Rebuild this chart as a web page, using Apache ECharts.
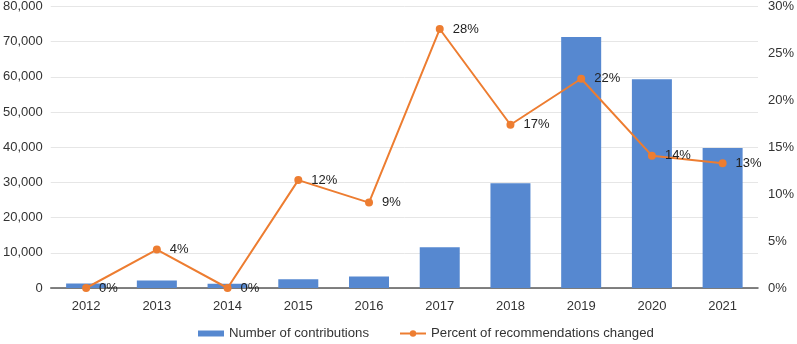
<!DOCTYPE html>
<html>
<head>
<meta charset="utf-8">
<script src="https://cdn.jsdelivr.net/npm/echarts@6/dist/echarts.min.js"></script>
<style>
    html, body { margin: 0; padding: 0; background: #fff; }
    #chart { width: 797px; height: 344px; }
</style>
</head>
<body>
<div id="chart"></div>
<script>
// 年份
var years = ['2012', '2013', '2014', '2015', '2016', '2017', '2018', '2019', '2020', '2021'];
// 贡献数量
var contributions = [1300, 2100, 1200, 2500, 3300, 11600, 29800, 71300, 59300, 39800];
// 推荐变化比例 (%)
var percentChanged = [0, 4.1, 0, 11.5, 9.1, 27.6, 17.4, 22.3, 14.1, 13.3];

var textColor = '#333';
var fontFamily = 'Liberation Sans, Arial, sans-serif';

var option = {
    textStyle: { fontFamily: fontFamily, color: textColor },
    animation: false,
    grid: { left: 48, right: 35, top: 6, bottom: 56 },
    legend: {
        top: 322,
        left: 193,
        itemGap: 30,
        itemWidth: 26,
        itemHeight: 8,
        textStyle: { fontSize: 13.2, color: textColor, fontFamily: fontFamily },
        data: [
            { name: 'Number of contributions', icon: 'path://M0,2H26V8H0Z' },
            { name: 'Percent of recommendations changed' }
        ]
    },
    xAxis: {
        type: 'category',
        data: years,
        axisTick: { show: false },
        axisLine: { lineStyle: { color: '#595959', width: 1.5 } },
        axisLabel: { fontSize: 13, color: textColor, margin: 12 }
    },
    yAxis: [
        {
            type: 'value',
            min: 0,
            max: 80000,
            interval: 10000,
            axisLine: { show: false },
            axisTick: { show: false },
            splitLine: { lineStyle: { color: '#e6e6e6' } },
            axisLabel: {
                fontSize: 13,
                color: textColor,
                margin: 8,
                formatter: function (v) { return v.toLocaleString('en-US'); }
            }
        },
        {
            type: 'value',
            min: 0,
            max: 30,
            interval: 5,
            axisLine: { show: false },
            axisTick: { show: false },
            splitLine: { show: false },
            axisLabel: { fontSize: 13, color: textColor, margin: 10, formatter: '{value}%' }
        }
    ],
    series: [
        {
            name: 'Number of contributions',
            type: 'bar',
            data: contributions,
            barWidth: 40,
            itemStyle: { color: '#5688d0' }
        },
        {
            name: 'Percent of recommendations changed',
            type: 'line',
            yAxisIndex: 1,
            data: percentChanged,
            symbol: 'circle',
            symbolSize: 8,
            lineStyle: { color: '#ed7d31', width: 2 },
            itemStyle: { color: '#ed7d31' },
            label: {
                show: true,
                position: 'right',
                distance: 9,
                fontSize: 13,
                color: '#222',
                formatter: function (p) { return Math.round(p.value) + '%'; }
            }
        }
    ]
};

var myChart = echarts.init(document.getElementById('chart'));
myChart.setOption(option);
</script>
</body>
</html>
